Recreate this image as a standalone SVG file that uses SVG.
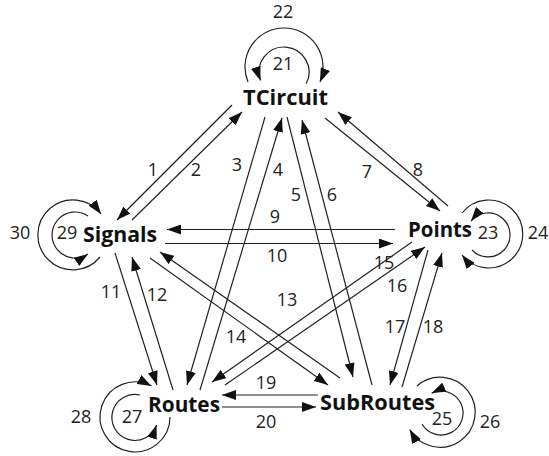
<svg xmlns="http://www.w3.org/2000/svg" width="549" height="456" viewBox="0 0 549 456">
<style>
.n{font-family:"Open Sans","Noto Sans",sans-serif;font-weight:bold;font-size:22px;fill:#111;}
.l{font-family:"Open Sans","Noto Sans",sans-serif;font-size:18px;fill:#222;text-anchor:middle;}
.e{fill:none;stroke:#222;stroke-width:1.2;marker-end:url(#a);}
</style>
<defs>
<marker id="a" markerUnits="userSpaceOnUse" markerWidth="14" markerHeight="10" refX="14" refY="5" orient="auto">
<path d="M0,0 L14,5 L0,10 z" fill="#111"/>
</marker>
</defs>
<rect width="549" height="456" fill="#fff"/>
<g id="edges">
<path class="e" d="M232,105 L117,220"/>
<path class="e" d="M132,220 L242,112"/>
<path class="e" d="M265,117 L187,385"/>
<path class="e" d="M200,390 L282,118"/>
<path class="e" d="M287,117 L353,377"/>
<path class="e" d="M372,385 L302,120"/>
<path class="e" d="M325,118 L440,211"/>
<path class="e" d="M448,206 L338,112"/>
<path class="e" d="M395,229.5 L167,229.5"/>
<path class="e" d="M165,243.5 L393,243.5"/>
<path class="e" d="M115,253 L157,385"/>
<path class="e" d="M173,390 L132,257"/>
<path class="e" d="M340,378 L160,252"/>
<path class="e" d="M150,258 L328,385"/>
<path class="e" d="M412,242 L212,382"/>
<path class="e" d="M225,385 L425,247"/>
<path class="e" d="M428,250 L390,385"/>
<path class="e" d="M402,387 L442,253"/>
<path class="e" d="M318,395 L222,395"/>
<path class="e" d="M222,407 L316,407"/>
<path class="e" d="M306.1,83.7 A25,25 0 1 0 260.5,80.5"/>
<path class="e" d="M248,82 A39,39 0 1 1 320,82"/>
<path class="e" d="M88,216 A23,23 0 1 0 88,254"/>
<path class="e" d="M100,257 A35,35 0 1 1 101,214"/>
<path class="e" d="M462,213 A34,34 0 1 1 462,255"/>
<path class="e" d="M472,250 A22,22 0 1 0 471,221"/>
<path class="e" d="M422,424 A22,22 0 1 0 431.7,393.1"/>
<path class="e" d="M417,386 A35,35 0 1 1 409.7,429.5"/>
<path class="e" d="M170,417 A35,35 0 1 1 151.4,386"/>
<path class="e" d="M140,395 A23,23 0 1 0 156.6,425"/>
</g>
<g id="labels">
<text class="l" x="153" y="176">1</text>
<text class="l" x="196" y="176">2</text>
<text class="l" x="237" y="171">3</text>
<text class="l" x="278" y="176">4</text>
<text class="l" x="296" y="201">5</text>
<text class="l" x="332" y="201">6</text>
<text class="l" x="367" y="178">7</text>
<text class="l" x="418" y="176">8</text>
<text class="l" x="275" y="223">9</text>
<text class="l" x="277" y="262">10</text>
<text class="l" x="111" y="298">11</text>
<text class="l" x="157" y="301">12</text>
<text class="l" x="287" y="306">13</text>
<text class="l" x="236" y="343">14</text>
<text class="l" x="384" y="269">15</text>
<text class="l" x="397" y="292">16</text>
<text class="l" x="395" y="333">17</text>
<text class="l" x="433" y="333">18</text>
<text class="l" x="266" y="389">19</text>
<text class="l" x="266" y="428">20</text>
<text class="l" x="283" y="70">21</text>
<text class="l" x="283" y="18">22</text>
<text class="l" x="488" y="239">23</text>
<text class="l" x="538" y="239">24</text>
<text class="l" x="442" y="425">25</text>
<text class="l" x="490" y="428">26</text>
<text class="l" x="132" y="423">27</text>
<text class="l" x="81" y="423">28</text>
<text class="l" x="67" y="239">29</text>
<text class="l" x="20" y="239">30</text>
</g>
<g id="TCircuit"><text class="n" x="243" y="105" textLength="85" lengthAdjust="spacingAndGlyphs">TCircuit</text></g>
<g id="Signals"><text class="n" x="83" y="242" textLength="74" lengthAdjust="spacingAndGlyphs">Signals</text></g>
<g id="Points"><text class="n" x="408" y="237" textLength="64" lengthAdjust="spacingAndGlyphs">Points</text></g>
<g id="Routes"><text class="n" x="148" y="412" textLength="72" lengthAdjust="spacingAndGlyphs">Routes</text></g>
<g id="SubRoutes"><text class="n" x="320" y="410" textLength="115" lengthAdjust="spacingAndGlyphs">SubRoutes</text></g>
</svg>
